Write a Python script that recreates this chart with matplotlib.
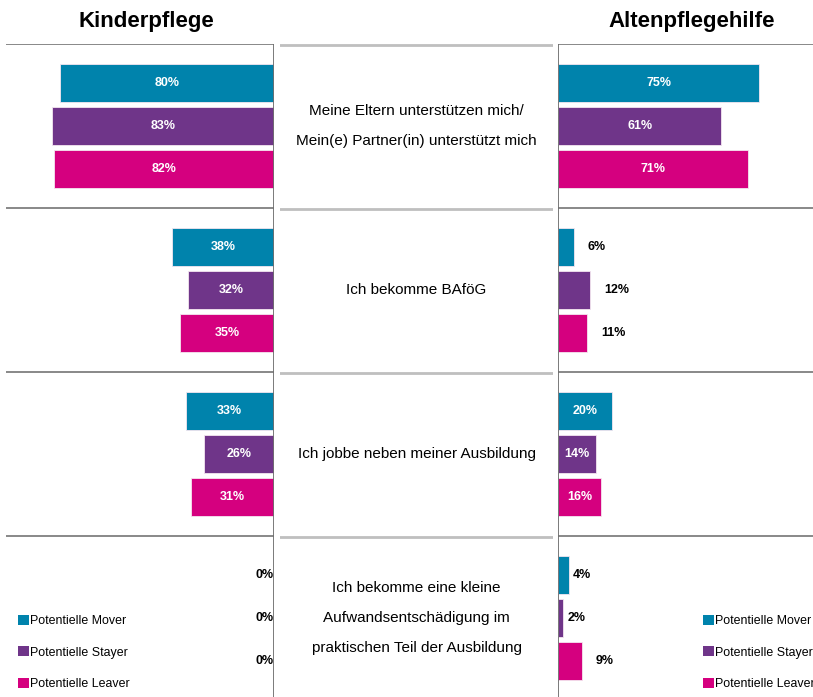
import matplotlib.pyplot as plt
from matplotlib.patches import Patch

# data
categories = ["Meine Eltern unterstützen mich/\nMein(e) Partner(in) unterstützt mich",
              "Ich bekomme BAföG",
              "Ich jobbe neben meiner Ausbildung",
              "Ich bekomme eine kleine\nAufwandsentschädigung im\npraktischen Teil der Ausbildung"]
series = ["Potentielle Mover", "Potentielle Stayer", "Potentielle Leaver"]
kinder_mover = [80, 38, 33, 0]
kinder_stayer = [83, 32, 26, 0]
kinder_leaver = [82, 35, 31, 0]
alten_mover = [75, 6, 20, 4]
alten_stayer = [61, 12, 14, 2]
alten_leaver = [71, 11, 16, 9]

colors = ["#0083AC", "#6F3589", "#D5007F"]
FONT = ["Liberation Sans", "DejaVu Sans"]

W, H = 813, 697
fig = plt.figure(figsize=(W / 100, H / 100), dpi=100)

def px(x0, y0, x1, y1):
    return [x0 / W, 1 - y1 / H, (x1 - x0) / W, (y1 - y0) / H]

ax_l = fig.add_axes(px(6, 44, 274, 700))
ax_m = fig.add_axes(px(280, 44, 553, 700))
ax_r = fig.add_axes(px(558, 44, 813, 700))

offsets = [-43 / 164, 0, 43 / 164]
bar_h = 38 / 164


def draw(ax, data, left):
    for j, vals in enumerate(data):
        ys = [i + 0.5 + offsets[j] for i in range(len(vals))]
        ax.barh(ys, vals, height=bar_h, color=colors[j], edgecolor="#F4E6F0", linewidth=0.6)
        for y, v in zip(ys, vals):
            lab = f"{v}%"
            if v >= 14:
                ax.text(v / 2, y, lab, ha="center", va="center", color="white",
                        fontsize=9, fontweight="bold", family=FONT)
            elif left:
                ax.annotate(lab, (v, y), xytext=(0, 0), textcoords="offset points",
                            ha="right", va="center", fontsize=9, fontweight="bold", family=FONT)
            else:
                # small bars: label outside, Excel puts tiny ones closer
                dx = 10 if v > 5 else 3
                ax.annotate(lab, (v, y), xytext=(dx, 0), textcoords="offset points",
                            ha="left", va="center", fontsize=9, fontweight="bold", family=FONT)
    ax.set_ylim(len(categories), 0)
    for k in range(len(categories)):
        ax.axhline(k, color="#7F7F7F", lw=1.3)
    ax.set_xticks([])
    ax.set_yticks([])
    for s in ax.spines.values():
        s.set_visible(False)


draw(ax_l, [kinder_mover, kinder_stayer, kinder_leaver], True)
ax_l.set_xlim(100, 0)
ax_l.axvline(0, color="#6F6F6F", lw=1.3)

draw(ax_r, [alten_mover, alten_stayer, alten_leaver], False)
ax_r.set_xlim(0, 255 / 2.68)
ax_r.axvline(0, color="#6F6F6F", lw=1.3)

ax_m.set_xlim(0, 1)
ax_m.set_ylim(len(categories), 0)
for k in range(len(categories)):
    ax_m.axhline(k + 0.006, color="#BFBFBF", lw=2)
    ax_m.text(0.5, k + 0.5, categories[k], ha="center", va="center",
              fontsize=11, linespacing=2.45, family=FONT)
ax_m.axis("off")

fig.text(146 / W, 1 - 22 / H, "Kinderpflege", ha="center", va="center",
         fontsize=16, fontweight="bold", family=FONT)
fig.text(692 / W, 1 - 22 / H, "Altenpflegehilfe", ha="center", va="center",
         fontsize=16, fontweight="bold", family=FONT)

handles = [Patch(facecolor=c, edgecolor="none") for c in colors]
leg_kw = dict(frameon=False, handlelength=0.85, handleheight=0.85, handletextpad=0.15,
              labelspacing=1.55, prop={"family": FONT, "size": 8.9}, borderaxespad=0,
              borderpad=0)
ax_l.legend(handles, series, loc="lower left", bbox_to_anchor=(12 / 268, 10 / 656), **leg_kw)
ax_r.legend(handles, series, loc="lower left", bbox_to_anchor=(145 / 255, 10 / 656), **leg_kw)

fig.savefig("out.png", dpi=100)
